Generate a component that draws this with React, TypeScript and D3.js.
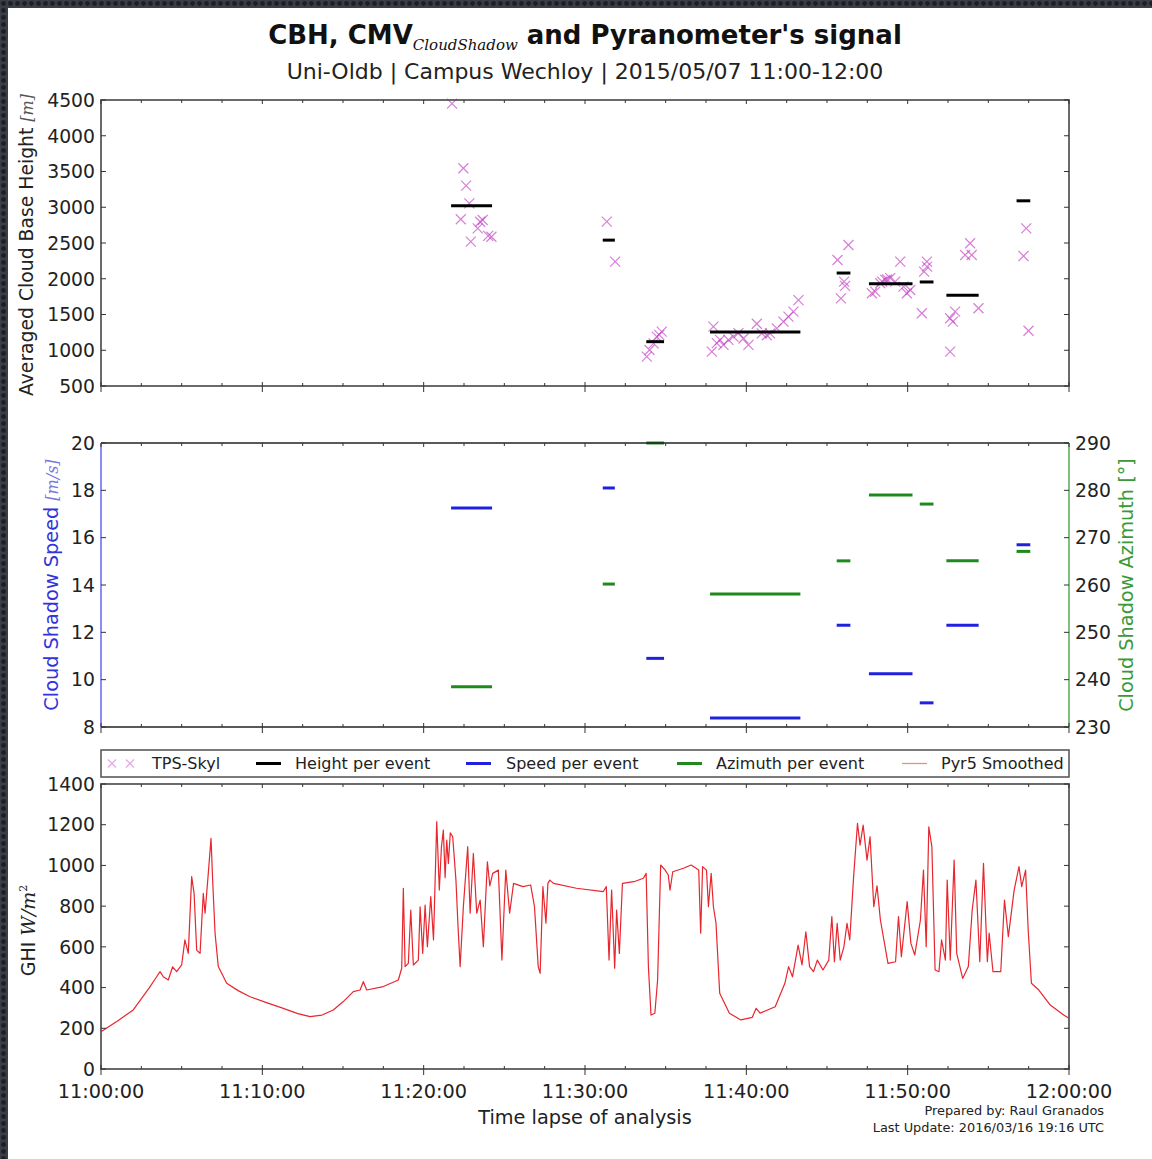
import React from "react";
import * as d3 from "d3";

// Time axis (minutes after 11:00)
const timeTickMinutes = [0, 10, 20, 30, 40, 50, 60];
const timeTickLabels = ["11:00:00", "11:10:00", "11:20:00", "11:30:00", "11:40:00", "11:50:00", "12:00:00"];
const minorTickMinutes = d3.range(0, 60.01, 2.5);

// Y tick values
const heightTicks = [500, 1000, 1500, 2000, 2500, 3000, 3500, 4000, 4500];
const speedTicks = [8, 10, 12, 14, 16, 18, 20];
const azimuthTicks = [230, 240, 250, 260, 270, 280, 290];
const ghiTicks = [0, 200, 400, 600, 800, 1000, 1200, 1400];

// TPS-Skyl cloud base height samples
const tpsMinutes = [
  21.76, 22.46, 22.63, 22.83, 22.3, 22.92, 23.5, 23.35, 23.66, 24.2, 24.0,
  31.35, 31.87,
  33.83, 34.0, 34.25, 34.45, 34.76, 34.6,
  37.86, 37.96, 38.17, 38.37, 38.58, 38.89, 39.2, 39.51, 39.82, 40.13, 40.65, 40.96, 41.27, 41.47, 41.89, 42.3, 42.61, 42.92, 43.23,
  46.33, 45.65, 46.06, 45.86, 46.12,
  47.78, 47.99, 48.3, 48.61, 48.92, 49.23, 49.54, 49.95, 50.16, 49.74, 48.73, 48.42,
  51.19, 51.02, 50.88, 51.2,
  53.87, 53.56, 53.97, 54.39, 52.94, 52.63, 52.8, 52.63,
  57.35, 57.18, 57.49,
];
const tpsHeights = [
  4450, 3545, 3302, 3054, 2832, 2520, 2797, 2705, 2822, 2588, 2600,
  2800, 2240,
  910, 1003, 1097, 1190, 1260, 1215,
  980, 1330, 1100, 1145, 1075, 1145, 1190, 1240, 1165, 1075, 1370, 1235, 1210, 1235, 1305, 1400, 1470, 1540, 1700,
  2472, 2262, 1959, 1726, 1900,
  1797, 1820, 1937, 1985, 2008, 1960, 2239, 1797, 1843, 1890, 1990, 1960,
  2240, 2100, 1518, 2170,
  2496, 2332, 2332, 1587, 1541, 1448, 1400, 980,
  2705, 2318, 1273,
];

// Per-event averages
const eventStart = [21.7, 31.1, 33.8, 37.75, 45.6, 47.6, 50.75, 52.4, 56.75];
const eventEnd = [24.24, 31.85, 34.9, 43.35, 46.45, 50.3, 51.6, 54.4, 57.6];
const eventHeight = [3020, 2540, 1120, 1255, 2080, 1930, 1955, 1770, 3090];
const eventSpeed = [17.25, 18.1, 10.9, 8.38, 12.3, 10.25, 9.02, 12.3, 15.7];
const eventAzimuth = [238.5, 260.2, 290, 258.1, 265.1, 279, 277.1, 265.1, 267.1];

// Pyr5 smoothed GHI
const ghiMinutes = [
  0, 1.0, 2.0, 3.0, 3.45, 3.66, 3.86, 4.17, 4.44, 4.69, 5.0, 5.2, 5.41, 5.62, 5.77, 5.93, 6.14, 6.34, 6.45, 6.65, 6.82, 6.92, 7.07, 7.27, 7.79,
  8.5, 9.24, 10.3, 11.3, 12.2, 12.96, 13.7, 14.4, 15.0, 15.64, 16.06, 16.26, 16.47, 17.5, 18.43, 18.64, 18.74, 18.85, 19.05, 19.2, 19.36,
  19.67, 19.78, 19.94, 20.09, 20.23, 20.44, 20.61, 20.81, 20.97, 21.1, 21.22, 21.33, 21.43, 21.53, 21.65, 21.8, 22.0, 22.13, 22.26, 22.46, 22.6, 22.73, 22.88, 23.08, 23.29,
  23.5, 23.7, 23.95, 24.1, 24.28, 24.63, 24.85, 25.09, 25.33, 25.57, 26.16, 26.63, 26.87, 27.1, 27.22, 27.39, 27.58, 27.7, 27.82, 28.05, 29.47,
  31.13, 31.32, 31.49, 31.65, 31.84, 31.96, 32.13, 32.32, 33.03, 33.62, 33.79, 33.93, 34.09, 34.33, 34.5, 34.69, 34.97, 35.16, 35.27, 35.44,
  36.1, 36.58, 37.05, 37.17, 37.29, 37.53, 37.65, 37.82, 37.96, 38.12, 38.35, 38.95, 39.66, 40.37, 40.61, 40.85, 41.79, 42.39, 42.62, 42.86,
  43.21, 43.45, 43.69, 43.92, 44.16, 44.4, 44.75, 45.11, 45.3, 45.46, 45.63, 45.82, 46.05, 46.24, 46.41, 46.65, 46.89, 47.05, 47.24, 47.48, 47.67,
  47.9, 48.1, 48.31, 48.78, 49.25, 49.43, 49.61, 49.97, 50.2, 50.44, 50.79, 50.98, 51.15, 51.31, 51.5, 51.7, 51.94, 52.1, 52.34, 52.45, 52.64,
  52.88, 53.04, 53.41, 53.76, 54.0, 54.23, 54.47, 54.7, 54.94, 55.05, 55.29, 55.77, 56.0, 56.24, 56.6, 56.9, 57.07, 57.31, 57.47, 57.67,
  58.13, 58.84, 59.67, 60,
];
const ghiValues = [
  183, 235, 290, 400, 453, 478, 453, 437, 502, 478, 511, 634, 568, 945, 863, 584, 568, 863, 765, 961, 1133, 928, 667, 503, 421,
  385, 355, 325, 298, 272, 257, 265, 290, 330, 380, 388, 429, 388, 405, 437, 495, 888, 503, 519, 781, 511,
  535, 797, 568, 805, 601, 847, 634, 1215, 879, 1090, 1174, 940, 1125, 1010, 1160, 1141, 928, 700, 503, 797, 950, 1092, 765, 1059, 765,
  830, 601, 1018, 900, 961, 977, 535, 977, 765, 912, 896, 904, 797, 503, 470, 896, 716, 912, 928, 912, 888,
  871, 896, 535, 879, 495, 781, 568, 912, 920, 937, 961, 503, 265, 274, 437, 1002, 977, 953, 879, 969,
  986, 1002, 977, 667, 994, 977, 797, 961, 797, 716, 372, 274, 241, 254, 298, 274, 306, 421, 503, 453,
  609, 511, 674, 503, 478, 535, 486, 535, 749, 527, 716, 535, 601, 716, 634, 945, 1207, 1100, 1198, 1026, 1141,
  797, 900, 732, 519, 527, 749, 552, 822, 617, 560, 732, 977, 601, 1190, 1092, 486, 478, 634, 535, 928, 535,
  1026, 568, 445, 503, 781, 928, 527, 1010, 527, 667, 478, 478, 830, 650, 879, 994, 896, 977, 683, 421,
  388, 314, 265, 249,
];

const W = 1152;
const H = 1159;
const X0 = 101;
const X1 = 1069;
const P1 = { top: 100, bottom: 386 };
const P2 = { top: 443, bottom: 727 };
const P3 = { top: 784, bottom: 1069 };
const LEG = { top: 750, bottom: 777 };

const FONT = "DejaVu Sans";
const TXT = "#222";
const SPINE = "#5a5a5a";
const TPS_COLOR = "#c23cc2";
const BLUE = "#2020e0";
const GREEN = "#1e8a1e";
const RED = "#e8262e";
const TICK_FS = 18.8;

const x = d3.scaleLinear().domain([0, 60]).range([X0, X1]);
const yH = d3.scaleLinear().domain([500, 4500]).range([P1.bottom, P1.top]);
const yS = d3.scaleLinear().domain([8, 20]).range([P2.bottom, P2.top]);
const yA = d3.scaleLinear().domain([230, 290]).range([P2.bottom, P2.top]);
const yG = d3.scaleLinear().domain([0, 1400]).range([P3.bottom, P3.top]);

function XTicks({ top, bottom }: { top: number; bottom: number }) {
  return (
    <g stroke="#333" strokeWidth={1}>
      {minorTickMinutes.map((m, i) => {
        const isMajor = Math.abs(m % 10) < 1e-6;
        const px = x(m);
        return (
          <g key={i}>
            {isMajor ? (
              <line x1={px} x2={px} y1={bottom - 4} y2={bottom + 6} />
            ) : (
              <line x1={px} x2={px} y1={bottom - 3} y2={bottom} />
            )}
            <line x1={px} x2={px} y1={top} y2={top + (isMajor ? 4 : 3)} />
          </g>
        );
      })}
    </g>
  );
}

function YTicksLeft({ ticks, scale, labels = true, color = TXT }: any) {
  return (
    <g>
      {ticks.map((t: number) => (
        <g key={t}>
          <line x1={X0} x2={X0 + 5} y1={scale(t)} y2={scale(t)} stroke="#333" />
          {labels && (
            <text x={X0 - 6} y={scale(t)} dy="0.36em" textAnchor="end" fontSize={TICK_FS} fill={color} fontFamily={FONT}>
              {t}
            </text>
          )}
        </g>
      ))}
    </g>
  );
}

function YTicksRight({ ticks, scale, labels = false }: any) {
  return (
    <g>
      {ticks.map((t: number) => (
        <g key={t}>
          <line x1={X1 - 5} x2={X1} y1={scale(t)} y2={scale(t)} stroke="#333" />
          {labels && (
            <text x={X1 + 6} y={scale(t)} dy="0.36em" textAnchor="start" fontSize={TICK_FS} fill={TXT} fontFamily={FONT}>
              {t}
            </text>
          )}
        </g>
      ))}
    </g>
  );
}

function Cross({ cx, cy, r = 5, color = TPS_COLOR, opacity = 0.65 }: any) {
  return (
    <g stroke={color} strokeWidth={1.2} opacity={opacity}>
      <line x1={cx - r} y1={cy - r} x2={cx + r} y2={cy + r} />
      <line x1={cx - r} y1={cy + r} x2={cx + r} y2={cy - r} />
    </g>
  );
}

export default function App() {
  const ghiLine = d3
    .line<number>()
    .x((_, i) => x(ghiMinutes[i]))
    .y((v) => yG(v))(ghiValues);

  const legendItems = [
    { kind: "tps", label: "TPS-Skyl", lx: 112, tx: 152 },
    { kind: "line", color: "#000", label: "Height per event", lx: 256, tx: 295 },
    { kind: "line", color: BLUE, label: "Speed per event", lx: 466, tx: 506 },
    { kind: "line", color: GREEN, label: "Azimuth per event", lx: 677, tx: 716 },
    { kind: "thin", color: "#f08a90", label: "Pyr5 Smoothed", lx: 902, tx: 941 },
  ];
  const legY = (LEG.top + LEG.bottom) / 2;

  return (
    <div style={{ position: "absolute", left: 0, top: 0 }}>
      <svg width={W} height={H} xmlns="http://www.w3.org/2000/svg" style={{ display: "block" }}>
        <defs>
          <pattern id="dots" width="7" height="7" patternUnits="userSpaceOnUse">
            <rect width="7" height="7" fill="#3b3e47" />
            <circle cx="3.5" cy="3.5" r="2.4" fill="#1d1f25" />
          </pattern>
        </defs>
        <rect x={0} y={0} width={W} height={H} fill="#fff" />
        <rect x={0} y={0} width={W} height={8} fill="url(#dots)" />
        <rect x={0} y={0} width={8} height={H} fill="url(#dots)" />

        {/* Title */}
        <text x={585} y={44} textAnchor="middle" fontFamily={FONT} fill="#111">
          <tspan fontWeight="bold" fontSize={26}>CBH, CMV</tspan>
          <tspan fontFamily="DejaVu Serif" fontStyle="italic" fontSize={15} dy={6}>CloudShadow</tspan>
          <tspan fontWeight="bold" fontSize={26} dy={-6}> and Pyranometer's signal</tspan>
        </text>
        <text x={585} y={79} textAnchor="middle" fontFamily={FONT} fontSize={22} fill={TXT}>
          Uni-Oldb | Campus Wechloy | 2015/05/07 11:00-12:00
        </text>

        {/* Panel 1: cloud base height */}
        <g>
          {tpsMinutes.map((m, i) => (
            <Cross key={i} cx={x(m)} cy={yH(tpsHeights[i])} />
          ))}
          {eventStart.map((s, i) => (
            <line key={i} x1={x(s)} x2={x(eventEnd[i])} y1={yH(eventHeight[i])} y2={yH(eventHeight[i])} stroke="#000" strokeWidth={3} />
          ))}
          <rect x={X0} y={P1.top} width={X1 - X0} height={P1.bottom - P1.top} fill="none" stroke={SPINE} strokeWidth={1.8} />
          <XTicks top={P1.top} bottom={P1.bottom} />
          <YTicksLeft ticks={heightTicks} scale={yH} />
          <YTicksRight ticks={heightTicks} scale={yH} />
          <text transform={`translate(33,${(P1.top + P1.bottom) / 2 + 2}) rotate(-90)`} textAnchor="middle" fontFamily={FONT} fontSize={18.8} fill={TXT}>
            Averaged Cloud Base Height <tspan fontFamily="DejaVu Serif" fontStyle="italic" fontSize={16} fill="#555">[m]</tspan>
          </text>
        </g>

        {/* Panel 2: speed and azimuth */}
        <g>
          {eventStart.map((s, i) => (
            <line key={"s" + i} x1={x(s)} x2={x(eventEnd[i])} y1={yS(eventSpeed[i])} y2={yS(eventSpeed[i])} stroke={BLUE} strokeWidth={3} />
          ))}
          {eventStart.map((s, i) => (
            <line key={"a" + i} x1={x(s)} x2={x(eventEnd[i])} y1={yA(eventAzimuth[i])} y2={yA(eventAzimuth[i])} stroke={GREEN} strokeWidth={3} />
          ))}
          <line x1={X0} x2={X1} y1={P2.top} y2={P2.top} stroke="#222" strokeWidth={1.3} />
          <line x1={X0} x2={X1} y1={P2.bottom} y2={P2.bottom} stroke="#222" strokeWidth={1.3} />
          <line x1={X0} x2={X0} y1={P2.top} y2={P2.bottom} stroke="#6666ee" strokeWidth={1.5} />
          <line x1={X1} x2={X1} y1={P2.top} y2={P2.bottom} stroke="#55aa55" strokeWidth={1.5} />
          <XTicks top={P2.top} bottom={P2.bottom} />
          <YTicksLeft ticks={speedTicks} scale={yS} />
          <YTicksRight ticks={azimuthTicks} scale={yA} labels />
          <text transform={`translate(58,${(P2.top + P2.bottom) / 2}) rotate(-90)`} textAnchor="middle" fontFamily={FONT} fontSize={19.3} fill="#3333dd">
            Cloud Shadow Speed <tspan fontFamily="DejaVu Serif" fontStyle="italic" fontSize={16} fill="#7777dd">[m/s]</tspan>
          </text>
          <text transform={`translate(1133,${(P2.top + P2.bottom) / 2}) rotate(-90)`} textAnchor="middle" fontFamily={FONT} fontSize={19.3} fill="#3a9a3a">
            Cloud Shadow Azimuth [°]
          </text>
        </g>

        {/* Legend */}
        <g fontFamily={FONT} fontSize={16} fill={TXT}>
          <rect x={X0} y={LEG.top} width={X1 - X0} height={LEG.bottom - LEG.top} fill="#fff" stroke={SPINE} strokeWidth={1.6} />
          {legendItems.map((it) => (
            <g key={it.label}>
              {it.kind === "tps" && (
                <>
                  <Cross cx={it.lx} cy={legY} r={4} opacity={0.45} />
                  <Cross cx={it.lx + 18} cy={legY} r={4} opacity={0.45} />
                </>
              )}
              {it.kind === "line" && <line x1={it.lx} x2={it.lx + 25} y1={legY} y2={legY} stroke={it.color} strokeWidth={3} />}
              {it.kind === "thin" && <line x1={it.lx} x2={it.lx + 25} y1={legY} y2={legY} stroke={it.color} strokeWidth={1.3} />}
              <text x={it.tx} y={legY} dy="0.36em">{it.label}</text>
            </g>
          ))}
        </g>

        {/* Panel 3: GHI */}
        <g>
          <path d={ghiLine || ""} fill="none" stroke={RED} strokeWidth={1.2} strokeLinejoin="round" />
          <rect x={X0} y={P3.top} width={X1 - X0} height={P3.bottom - P3.top} fill="none" stroke={SPINE} strokeWidth={1.8} />
          <XTicks top={P3.top} bottom={P3.bottom} />
          <YTicksLeft ticks={ghiTicks} scale={yG} />
          <YTicksRight ticks={ghiTicks} scale={yG} />
          <text transform={`translate(35,${(P3.top + P3.bottom) / 2 + 4}) rotate(-90)`} textAnchor="middle" fontFamily={FONT} fontSize={19} fill={TXT}>
            GHI <tspan fontFamily="DejaVu Serif" fontStyle="italic">W/m</tspan>
            <tspan fontFamily="DejaVu Serif" fontSize={11} dy={-8}>2</tspan>
          </text>
          {timeTickMinutes.map((m, i) => (
            <text key={m} x={x(m)} y={1098} textAnchor="middle" fontFamily={FONT} fontSize={19.3} fill={TXT}>
              {timeTickLabels[i]}
            </text>
          ))}
          <text x={585} y={1124} textAnchor="middle" fontFamily={FONT} fontSize={19.3} fill={TXT}>
            Time lapse of analysis
          </text>
          <text x={1104} y={1115} textAnchor="end" fontFamily={FONT} fontSize={12.9} fill={TXT}>
            Prepared by: Raul Granados
          </text>
          <text x={1104} y={1132} textAnchor="end" fontFamily={FONT} fontSize={12.9} fill={TXT}>
            Last Update: 2016/03/16 19:16 UTC
          </text>
        </g>
      </svg>
    </div>
  );
}
